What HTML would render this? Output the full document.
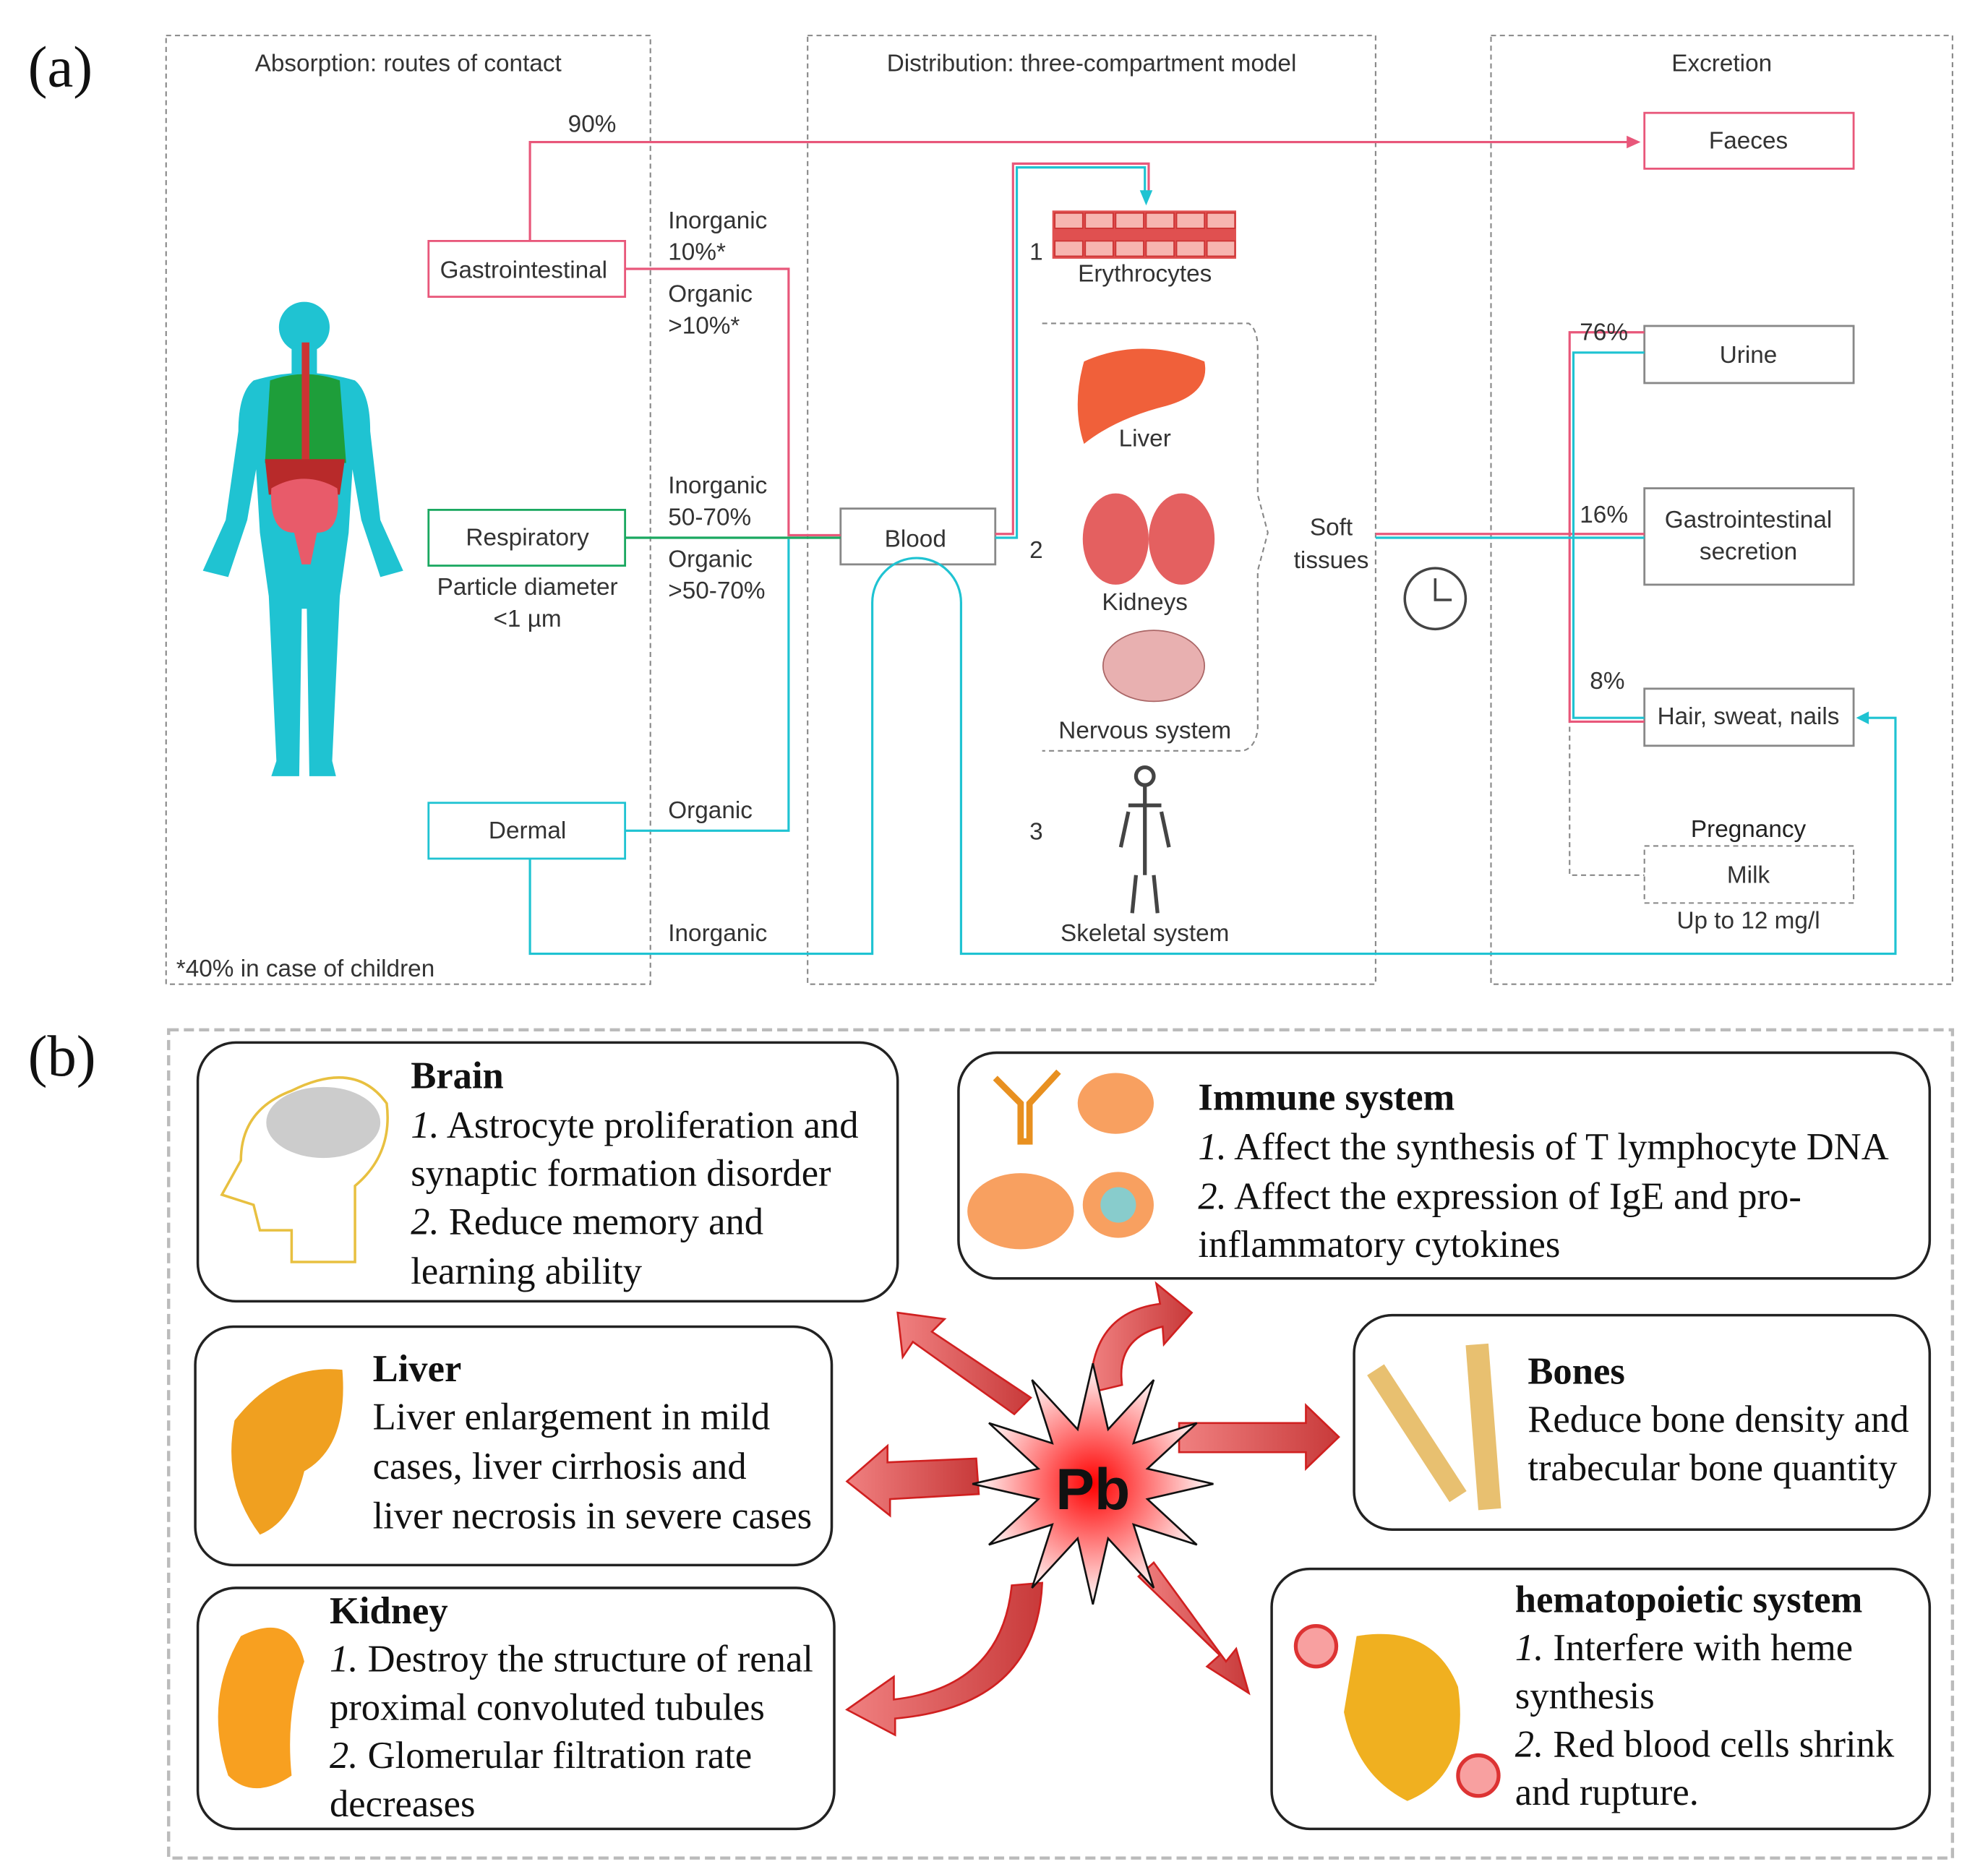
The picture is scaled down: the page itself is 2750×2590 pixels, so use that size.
<!DOCTYPE html>
<html><head><meta charset="utf-8"><style>
html,body{margin:0;padding:0;background:#fff}
svg{display:block}
.s{font-family:"Liberation Sans","DejaVu Sans",sans-serif;fill:#333;font-size:19px}
.t{font-family:"Liberation Serif",serif;fill:#111;font-size:30px}
.b{font-weight:bold}
</style></head><body>
<svg width="2750" height="2590" viewBox="0 0 1568 1476" preserveAspectRatio="none" xmlns="http://www.w3.org/2000/svg">
<defs>
<linearGradient id="ar" x1="0" y1="0" x2="1" y2="0"><stop offset="0" stop-color="#f08080"/><stop offset="1" stop-color="#c83a3a"/></linearGradient>
<radialGradient id="pb"><stop offset="0" stop-color="#ff0000"/><stop offset=".5" stop-color="#ff8080"/><stop offset="1" stop-color="#fff"/></radialGradient>
</defs>
<text x="22" y="68" font-family="Liberation Serif,serif" font-size="46" fill="#111">(a)</text>
<text x="22" y="848" font-family="Liberation Serif,serif" font-size="46" fill="#111">(b)</text>
<g fill="none" stroke="#888" stroke-dasharray="4,3" stroke-width="1.2">
<rect x="131" y="28" width="382" height="748"/>
<rect x="637" y="28" width="448" height="748"/>
<rect x="1176" y="28" width="364" height="748"/>
<path d="M822 255 H985 Q992 260 992 275 V390 L1000 420 L992 450 V575 Q990 590 980 592 H822"/>
<path d="M1238 566 V690 H1297"/>
<rect x="1297" y="667" width="165" height="45"/>
</g>
<text class="s" x="322" y="56" text-anchor="middle">Absorption: routes of contact</text>
<text class="s" x="861" y="56" text-anchor="middle">Distribution: three-compartment model</text>
<text class="s" x="1358" y="56" text-anchor="middle">Excretion</text>
<g fill="#1fc3d2">
<circle cx="240" cy="258" r="20"/>
<rect x="230" y="272" width="20" height="26"/>
<path d="M200 300 Q240 288 280 300 Q292 310 292 340 L300 410 L318 450 L300 455 L285 410 L278 370 L275 420 L268 470 L262 600 L265 612 L244 612 L242 480 L238 480 L236 612 L214 612 L218 600 L212 470 L205 420 L202 370 L195 410 L180 455 L160 450 L178 410 L188 340 Q188 310 200 300 Z"/>
</g>
<path d="M213 300 Q240 290 268 300 L273 365 H209 Z" fill="#1e9e3a"/>
<rect x="238" y="270" width="6" height="100" fill="#c33"/>
<path d="M209 362 H272 L268 390 H212 Z" fill="#b82a2a"/>
<path d="M214 385 Q240 370 266 385 Q270 420 250 420 L245 445 L238 445 L232 420 Q212 420 214 385 Z" fill="#e85b6a"/>
<g fill="#fff" stroke-width="1.6">
<rect x="338" y="190" width="155" height="44" stroke="#e8577a"/>
<rect x="1297" y="89" width="165" height="44" stroke="#e8577a"/>
<rect x="338" y="402" width="155" height="44" stroke="#1aa860"/>
<rect x="338" y="633" width="155" height="44" stroke="#1fc3d2"/>
<rect x="663" y="401" width="122" height="44" stroke="#888"/>
<rect x="1297" y="257" width="165" height="45" stroke="#888"/>
<rect x="1297" y="385" width="165" height="76" stroke="#888"/>
<rect x="1297" y="543" width="165" height="45" stroke="#888"/>
</g>
<g fill="none" stroke-width="1.8">
<path d="M418 190 V112 H1288" stroke="#e8577a"/>
<path d="M493 212 H622 V422 H663" stroke="#e8577a"/>
<path d="M493 424 H663" stroke="#1aa860"/>
<path d="M493 655 H622 V425" stroke="#1fc3d2"/>
<path d="M418 677 V752 H688 V475 A35 35 0 0 1 758 475 V752 H1495 V566 H1470" stroke="#1fc3d2"/>
<path d="M785 421 H799 V129 H906 V155" stroke="#e8577a"/>
<path d="M785 424 H802 V132 H903 V155" stroke="#1fc3d2"/>
<path d="M1085 421 H1297 M1238 421 V262 H1297 M1238 421 V569 H1297" stroke="#e8577a"/>
<path d="M1085 424 H1297 M1241 424 V278 H1297 M1241 424 V566 H1297" stroke="#1fc3d2"/>
</g>
<path d="M1294 112 L1283 107 L1283 117 Z" fill="#e8577a"/>
<path d="M904 162 L899 150 L909 150 Z" fill="#1fc3d2"/>
<path d="M1464 566 L1474 561 L1474 571 Z" fill="#1fc3d2"/>
<rect x="830" y="166" width="145" height="38" fill="#e05050"/>
<g fill="#f7b5b0" stroke="#c33"><rect x="832" y="168" width="22" height="12"/><rect x="856" y="168" width="22" height="12"/><rect x="880" y="168" width="22" height="12"/><rect x="904" y="168" width="22" height="12"/><rect x="928" y="168" width="22" height="12"/><rect x="952" y="168" width="22" height="12"/>
<rect x="832" y="190" width="22" height="12"/><rect x="856" y="190" width="22" height="12"/><rect x="880" y="190" width="22" height="12"/><rect x="904" y="190" width="22" height="12"/><rect x="928" y="190" width="22" height="12"/><rect x="952" y="190" width="22" height="12"/></g>
<path d="M855 285 Q900 265 950 285 Q955 310 920 320 Q880 330 855 350 Q845 320 855 285 Z" fill="#f0603a"/>
<ellipse cx="880" cy="425" rx="26" ry="36" fill="#e46060"/><ellipse cx="932" cy="425" rx="26" ry="36" fill="#e46060"/>
<ellipse cx="910" cy="525" rx="40" ry="28" fill="#e8b0b0" stroke="#a66"/>
<g stroke="#444" stroke-width="3" fill="none"><circle cx="903" cy="612" r="7"/><path d="M903 620 V690 M890 635 H916 M890 640 L884 668 M916 640 L922 668 M896 690 L893 720 M910 690 L913 720"/></g>
<g class="s">
<text x="467" y="104" text-anchor="middle">90%</text>
<text x="1379" y="117" text-anchor="middle">Faeces</text>
<text x="413" y="219" text-anchor="middle">Gastrointestinal</text>
<text x="527" y="180">Inorganic</text><text x="527" y="205">10%*</text>
<text x="527" y="238">Organic</text><text x="527" y="263">&gt;10%*</text>
<text x="527" y="389">Inorganic</text><text x="527" y="414">50-70%</text>
<text x="527" y="447">Organic</text><text x="527" y="472">&gt;50-70%</text>
<text x="416" y="430" text-anchor="middle">Respiratory</text>
<text x="416" y="469" text-anchor="middle">Particle diameter</text>
<text x="416" y="494" text-anchor="middle">&lt;1 µm</text>
<text x="416" y="661" text-anchor="middle">Dermal</text>
<text x="527" y="645">Organic</text>
<text x="527" y="742">Inorganic</text>
<text x="139" y="770">*40% in case of children</text>
<text x="722" y="431" text-anchor="middle">Blood</text>
<text x="812" y="205">1</text><text x="812" y="440">2</text><text x="812" y="662">3</text>
<text x="903" y="222" text-anchor="middle">Erythrocytes</text>
<text x="903" y="352" text-anchor="middle">Liver</text>
<text x="903" y="481" text-anchor="middle">Kidneys</text>
<text x="903" y="582" text-anchor="middle">Nervous system</text>
<text x="903" y="742" text-anchor="middle">Skeletal system</text>
<text x="1050" y="422" text-anchor="middle">Soft</text><text x="1050" y="448" text-anchor="middle">tissues</text>
<text x="1246" y="268">76%</text><text x="1246" y="412">16%</text><text x="1254" y="543">8%</text>
<text x="1379" y="286" text-anchor="middle">Urine</text>
<text x="1379" y="416" text-anchor="middle">Gastrointestinal</text>
<text x="1379" y="441" text-anchor="middle">secretion</text>
<text x="1379" y="571" text-anchor="middle">Hair, sweat, nails</text>
<text x="1379" y="660" text-anchor="middle" fill="#222">Pregnancy</text>
<text x="1379" y="696" text-anchor="middle">Milk</text>
<text x="1379" y="732" text-anchor="middle">Up to 12 mg/l</text>
</g>
<circle cx="1132" cy="472" r="24" fill="none" stroke="#444" stroke-width="2"/>
<path d="M1132 456 V473 H1145" fill="none" stroke="#444" stroke-width="2"/>
<rect x="133" y="812" width="1407" height="653" fill="none" stroke="#bbb" stroke-width="2.5" stroke-dasharray="8,4"/>
<g fill="#fff" stroke="#222" stroke-width="2">
<rect x="156" y="822" width="552" height="204" rx="30"/>
<rect x="756" y="830" width="766" height="178" rx="30"/>
<rect x="154" y="1046" width="502" height="188" rx="30"/>
<rect x="1068" y="1037" width="454" height="169" rx="30"/>
<rect x="156" y="1252" width="502" height="190" rx="30"/>
<rect x="1003" y="1237" width="519" height="205" rx="30"/>
</g>
<path d="M230 860 Q280 835 305 870 Q310 910 280 935 V995 H230 V970 H205 L200 950 L175 942 L190 915 Q190 875 230 860 Z" fill="#fff" stroke="#e8c040" stroke-width="2"/>
<ellipse cx="255" cy="885" rx="45" ry="28" fill="#ccc"/>
<g fill="#f8a060"><ellipse cx="880" cy="870" rx="30" ry="24"/><ellipse cx="805" cy="955" rx="42" ry="30"/><ellipse cx="882" cy="950" rx="28" ry="26"/></g>
<circle cx="882" cy="950" r="14" fill="#8cc"/>
<path d="M785 850 L805 870 V900 H812 V870 L835 845" fill="none" stroke="#e89020" stroke-width="5"/>
<path d="M185 1120 Q220 1075 270 1080 Q275 1140 240 1160 Q230 1200 205 1210 Q175 1170 185 1120 Z" fill="#f0a020"/>
<path d="M1085 1080 L1150 1180" stroke="#e8c070" stroke-width="16"/>
<path d="M1165 1060 L1175 1190" stroke="#e8c070" stroke-width="18"/>
<path d="M190 1290 Q230 1270 240 1310 Q225 1350 230 1400 Q200 1420 180 1400 Q160 1340 190 1290 Z" fill="#f8a020"/>
<path d="M1070 1290 Q1130 1280 1150 1330 Q1160 1400 1110 1420 Q1070 1400 1060 1350 Z" fill="#f0b020"/>
<circle cx="1038" cy="1298" r="16" fill="#f8a0a0" stroke="#d33" stroke-width="3"/>
<circle cx="1166" cy="1400" r="16" fill="#f8a0a0" stroke="#d33" stroke-width="3"/>
<g fill="url(#ar)" stroke="#d02020" stroke-width="1.5">
<polygon points="800,1115 720,1058 712,1070 708,1035 745,1040 735,1050 813,1102"/>
<polygon points="770,1150 700,1153 700,1140 668,1168 702,1195 702,1182 772,1178"/>
<polygon points="930,1122 1030,1122 1030,1108 1056,1133 1030,1158 1030,1145 930,1145"/>
<polygon points="898,1243 962,1305 952,1314 985,1335 975,1300 967,1310 910,1232"/>
<path d="M860 1098 Q860 1035 915 1028 L912 1012 L940 1035 L918 1060 L917 1046 Q880 1055 885 1092 Z"/>
<path d="M798 1250 Q790 1330 705 1340 L705 1322 L668 1348 L706 1368 L706 1355 Q818 1345 822 1248 Z"/>
</g>
<polygon points="957,1170 905,1182 944,1218 894,1202 910,1252 874,1213 862,1265 850,1213 814,1252 830,1202 780,1218 819,1182 767,1170 819,1158 780,1122 830,1138 814,1088 850,1127 862,1075 874,1127 910,1088 894,1138 944,1122 905,1158" fill="url(#pb)" stroke="#111" stroke-width="1.5"/>
<text x="862" y="1190" text-anchor="middle" font-family="Liberation Sans,sans-serif" font-weight="bold" font-size="46" fill="#111">Pb</text>
<g class="t">
<text class="b" x="324" y="858">Brain</text>
<text x="324" y="897"><tspan font-style="italic">1.</tspan> Astrocyte proliferation and</text>
<text x="324" y="935">synaptic formation disorder</text>
<text x="324" y="973"><tspan font-style="italic">2.</tspan> Reduce memory and</text>
<text x="324" y="1012">learning ability</text>
<text class="b" x="945" y="875">Immune system</text>
<text x="945" y="914"><tspan font-style="italic">1.</tspan> Affect the synthesis of T lymphocyte DNA</text>
<text x="945" y="953"><tspan font-style="italic">2.</tspan> Affect the expression of IgE and pro-</text>
<text x="945" y="991">inflammatory cytokines</text>
<text class="b" x="294" y="1089">Liver</text>
<text x="294" y="1127">Liver enlargement in mild</text>
<text x="294" y="1166">cases, liver cirrhosis and</text>
<text x="294" y="1205">liver necrosis in severe cases</text>
<text class="b" x="1205" y="1091">Bones</text>
<text x="1205" y="1129">Reduce bone density and</text>
<text x="1205" y="1167">trabecular bone quantity</text>
<text class="b" x="260" y="1280">Kidney</text>
<text x="260" y="1318"><tspan font-style="italic">1.</tspan> Destroy the structure of renal</text>
<text x="260" y="1356">proximal convoluted tubules</text>
<text x="260" y="1394"><tspan font-style="italic">2.</tspan> Glomerular filtration rate</text>
<text x="260" y="1432">decreases</text>
<text class="b" x="1195" y="1271">hematopoietic system</text>
<text x="1195" y="1309"><tspan font-style="italic">1.</tspan> Interfere with heme</text>
<text x="1195" y="1347">synthesis</text>
<text x="1195" y="1385"><tspan font-style="italic">2.</tspan> Red blood cells shrink</text>
<text x="1195" y="1423">and rupture.</text>
</g>
</svg>
</body></html>
